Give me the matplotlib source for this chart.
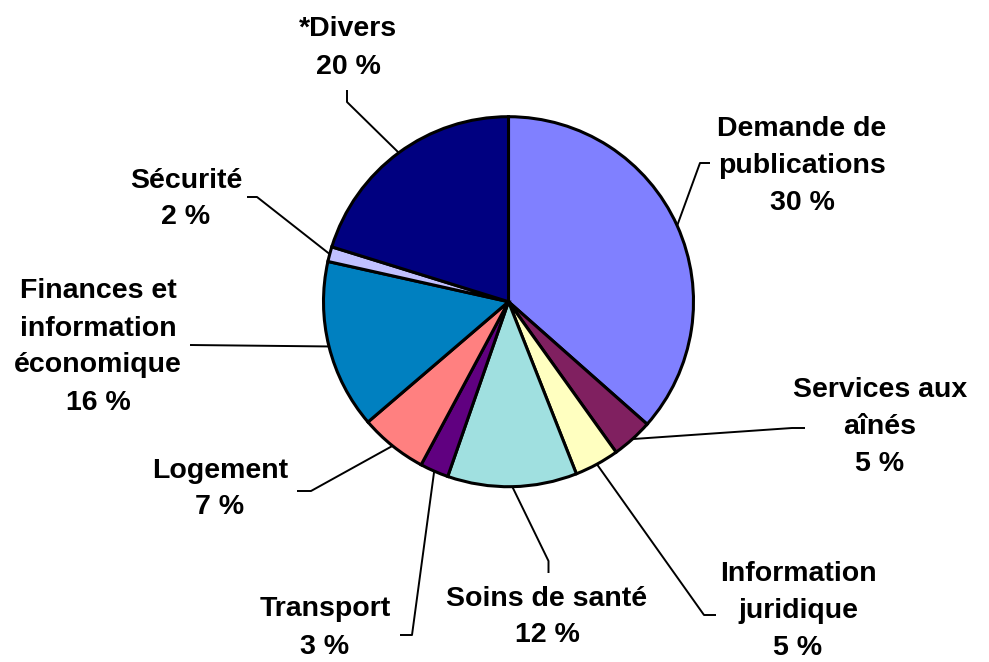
import numpy as np
import matplotlib.pyplot as plt

plt.rcParams['font.family'] = ['Liberation Sans', 'DejaVu Sans']

categories = ['Demande de\npublications', 'Services aux\naînés', 'Information\njuridique',
              'Soins de santé', 'Transport', 'Logement',
              'Finances et\ninformation\néconomique', 'Sécurité', '*Divers']
# slice sizes as drawn in the chart (the printed percentages differ)
shares = [36.5, 3.6, 3.9, 11.3, 2.5, 5.9, 14.75, 1.3, 20.2]
pct_labels = ['30 %', '5 %', '5 %', '12 %', '3 %', '7 %', '16 %', '2 %', '20 %']
colors = ['#8080FF', '#802060', '#FFFFC0', '#A0E0E0', '#600080',
          '#FF8080', '#0080C0', '#C0C0FF', '#000080']

W, H = 989, 662
cx, cy, r = 508.5, 301.7, 185

# label placement (pixels from top-left): text centre, elbow, line end
text_pos = [(802, 166), (880, 427), (798, 611), (547, 617), (325, 628),
            (220, 489), (98, 347), (186, 199), (348, 48)]
elbows = [(700, 163), (792, 428), (704, 615), (548.5, 561), (412, 635),
          (311, 491), (190, 345), (257, 197), (347, 102)]
ends = [(710, 163), (805, 428), (716, 615), (548.5, 573), (400, 635),
        (297, 491), (190, 345), (247, 197), (347, 90)]

fig = plt.figure(figsize=(W / 100, H / 100), dpi=100)
ax = fig.add_axes([0, 0, 1, 1])
wedges, _ = ax.pie(shares, colors=colors, startangle=90, counterclock=False,
                   radius=r, center=(cx, H - cy),
                   wedgeprops=dict(edgecolor='black', linewidth=2.2))
ax.set_xlim(0, W)
ax.set_ylim(0, H)
ax.set_aspect('equal')
ax.axis('off')

for w, cat, pct, tp, el, en in zip(wedges, categories, pct_labels, text_pos, elbows, ends):
    mid = np.deg2rad((w.theta1 + w.theta2) / 2)
    ex, ey = cx + r * np.cos(mid), (H - cy) + r * np.sin(mid)
    ax.plot([ex, el[0], en[0]], [ey, H - el[1], H - en[1]], color='black', lw=1.4,
            solid_capstyle='butt', zorder=0)
    ax.text(tp[0], H - tp[1], cat + '\n' + pct, ha='center', va='center',
            multialignment='center', fontsize=20.5, fontweight='bold', linespacing=1.55)

fig.savefig('out.png', dpi=100)
